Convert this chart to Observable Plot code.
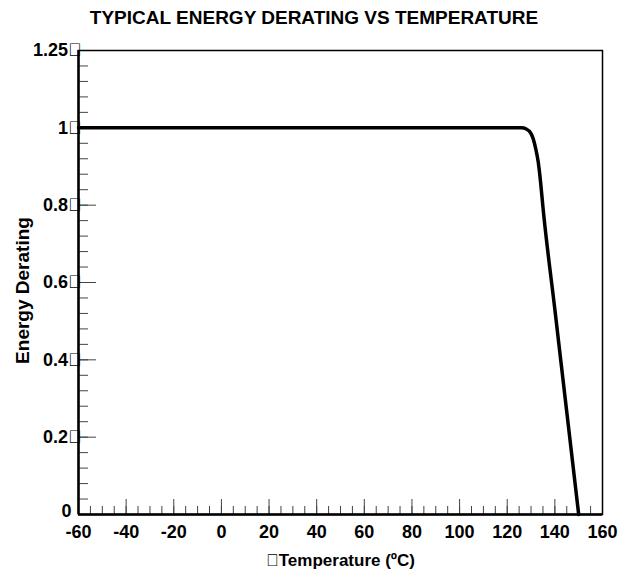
<!DOCTYPE html>
<html>
<head>
<meta charset="utf-8">
<script src="https://cdn.jsdelivr.net/npm/d3@7"></script>
<script src="https://cdn.jsdelivr.net/npm/@observablehq/plot@0.6"></script>
<style>
  html, body { margin: 0; padding: 0; background: #fff; }
  body { font-family: "Liberation Sans", Arial, sans-serif; color: #000; width: 628px; }
  #title { height: 31px; padding-top: 1px; line-height: 33px; text-align: center; font-size: 19px; font-weight: bold; }
  #chart svg { display: block; }
</style>
</head>
<body>
<div id="title">TYPICAL ENERGY DERATING VS TEMPERATURE</div>
<div id="chart"></div>
<script>
// Curve
const temperature = [-60, 126, 128, 130, 131, 132, 133, 134, 135, 140, 145, 150];
const derating    = [1, 1, 0.997, 0.985, 0.97, 0.945, 0.912, 0.86, 0.795, 0.53, 0.265, 0];

// Axes
const xTicks = [-60, -40, -20, 0, 20, 40, 60, 80, 100, 120, 140, 160];
const xMinorTicks = [-60, -55, -50, -45, -40, -35, -30, -25, -20, -15, -10, -5, 0, 5, 10, 15, 20, 25, 30, 35, 40, 45, 50, 55, 60, 65, 70, 75, 80, 85, 90, 95, 100, 105, 110, 115, 120, 125, 130, 135, 140, 145, 150, 155, 160];
const yTicks = [0.2, 0.4, 0.6, 0.8, 1, 1.2];
const yTickLabels = ["0.2\uE000", "0.4\uE000", "0.6\uE000", "0.8\uE000", "1\uE000", "1.25\uE000"];
const yZeroTick = [0];
const yZeroLabel = "0\u2007";
const yMajorTicks = [0.2, 0.4, 0.6, 0.8];
const yMinorTicks = [0, 0.04, 0.08, 0.12, 0.16, 0.2, 0.24, 0.28, 0.32, 0.36, 0.4, 0.44, 0.48, 0.52, 0.56, 0.6, 0.64, 0.68, 0.72, 0.76, 0.8, 0.84, 0.88, 0.92, 0.96, 1, 1.04, 1.08, 1.12, 1.16, 1.2];
const xLabel = "\uE000Temperature (ºC)";
const yLabel = "Energy Derating";

const data = temperature.map((t, i) => ({t, d: derating[i]}));
const yLabelMap = new Map(yTicks.map((v, i) => [v, yTickLabels[i]]));

const chart = Plot.plot({
  width: 628,
  height: 540,
  marginTop: 18,
  marginBottom: 58,
  marginLeft: 78,
  marginRight: 26,
  style: {fontFamily: "'Liberation Sans', Arial, sans-serif", fontSize: "18px", color: "#000", background: "#fff"},
  x: {domain: [-60, 160]},
  y: {domain: [0, 1.2]},
  marks: [
    Plot.axisX(xMinorTicks, {tickSize: -8, stroke: "#444", tickFormat: () => "", label: null}),
    Plot.axisX(xTicks, {tickSize: -15, stroke: "#444", tickFormat: () => "", label: null}),
    Plot.axisX(xTicks, {tickSize: 0, tickPadding: 11, fontSize: 18, fontWeight: "bold", tickFormat: d => String(d), label: null}),
    Plot.axisY(yMinorTicks, {tickSize: -10, stroke: "#444", tickFormat: () => "", label: null}),
    Plot.axisY(yMajorTicks, {tickSize: -18, stroke: "#444", tickFormat: () => "", label: null}),
    Plot.axisY(yTicks, {tickSize: 0, tickPadding: -3, fontSize: 18, fontWeight: "bold", tickFormat: d => yLabelMap.get(d), label: null}),
    Plot.axisY(yZeroTick, {tickSize: 0, tickPadding: -3, dy: -3, fontSize: 18, fontWeight: "bold", tickFormat: () => yZeroLabel, label: null}),
    Plot.text([xLabel], {frameAnchor: "bottom", dy: 51, lineAnchor: "bottom", fontSize: 17, fontWeight: "bold"}),
    Plot.text([yLabel], {frameAnchor: "left", dx: -56, dy: 8, rotate: -90, textAnchor: "middle", fontSize: 19, fontWeight: "bold"}),
    Plot.frame({stroke: "#000", strokeWidth: 1.5}),
    Plot.ruleX([-60], {stroke: "#000", strokeWidth: 2.5}),
    Plot.ruleY([0], {stroke: "#000", strokeWidth: 2.5}),
    Plot.line(data, {x: "t", y: "d", curve: "monotone-x", stroke: "#000", strokeWidth: 3.5})
  ]
});
document.getElementById("chart").appendChild(chart);
</script>
</body>
</html>
